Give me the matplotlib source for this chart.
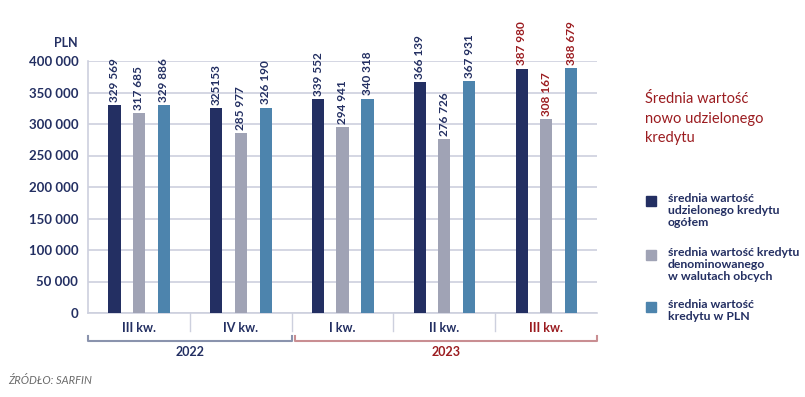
import matplotlib
matplotlib.use("Agg")
import matplotlib.pyplot as plt
from matplotlib.transforms import blended_transform_factory
from matplotlib.patches import Rectangle

plt.rcParams['font.family'] = ['Lato', 'DejaVu Sans']

quarters = ["III kw.", "IV kw.", "I kw.", "II kw.", "III kw."]
years = ["2022", "2023"]
total = [329569, 325153, 339552, 366139, 387980]
foreign = [317685, 285977, 294941, 276726, 308167]
pln = [329886, 326190, 340318, 367931, 388679]
total_lbl = ["329 569", "325153", "339 552", "366 139", "387 980"]
foreign_lbl = ["317 685", "285 977", "294 941", "276 726", "308 167"]
pln_lbl = ["329 886", "326 190", "340 318", "367 931", "388 679"]
yticks = [0, 50000, 100000, 150000, 200000, 250000, 300000, 350000, 400000]
ytick_lbl = ["0", "50 000", "100 000", "150 000", "200 000", "250 000", "300 000", "350 000", "400 000"]
legend_lbl = ["średnia wartość\nudzielonego kredytu\nogółem",
              "średnia wartość kredytu\ndenominowanego\nw walutach obcych",
              "średnia wartość\nkredytu w PLN"]

NAVY = "#232f62"
GRAY = "#a0a3b5"
BLUE = "#4d84ad"
RED = "#9b1c20"
GRID = "#cdd0de"

W, H = 805, 397
fig = plt.figure(figsize=(W/100, H/100), dpi=100)
ax = fig.add_axes([88/W, (H-313)/H, 509/W, 252/H])

colors = [NAVY, GRAY, BLUE]
series = [total, foreign, pln]
labels = [total_lbl, foreign_lbl, pln_lbl]
offs = [-0.24, 0.0, 0.245]
for s, c, lb, o in zip(series, colors, labels, offs):
    for i, v in enumerate(s):
        x = i + 0.5 + o
        ax.bar(x, v, width=0.12, color=c, zorder=3)
        tc = RED if i == 4 else NAVY
        ax.text(x, v + 5000, lb[i], rotation=90, ha='center', va='bottom',
                fontsize=8.5, color=tc, fontweight='bold', zorder=4)

ax.set_xlim(0, 5)
ax.set_ylim(0, 400000)
ax.set_yticks(yticks)
ax.set_yticklabels(ytick_lbl, fontsize=9.5, color=NAVY, fontweight='bold')
ax.tick_params(axis='y', length=0, pad=7)
ax.set_xticks([])
ax.grid(axis='y', color=GRID, linewidth=1.2, zorder=0)
for sp in ['top', 'right']:
    ax.spines[sp].set_visible(False)
ax.spines['left'].set_color(GRID)
ax.spines['left'].set_linewidth(1.2)
ax.spines['bottom'].set_color(GRID)
ax.spines['bottom'].set_linewidth(1.2)

tr = blended_transform_factory(ax.transData, ax.transAxes)
for k in range(1, 5):
    ax.plot([k, k], [0, -0.07], transform=tr, color=GRID, lw=1.0, clip_on=False)
for i, q in enumerate(quarters):
    ax.text(i + 0.5, -0.06, q, transform=tr, ha='center', va='center',
            fontsize=9, fontweight='bold', color=RED if i == 4 else NAVY)

# year brackets
yb, yt = -0.112, -0.09
for (x0, x1), c, yl, tc in [((0.0, 2.0), "#8a93ad", "2022", NAVY),
                             ((2.03, 5.0), "#c98e92", "2023", RED)]:
    ax.plot([x0, x0, x1, x1], [yt, yb, yb, yt], transform=tr, color=c, lw=1.5, clip_on=False)
    ax.text((x0 + x1) / 2, -0.155, yl, transform=tr, ha='center', va='center',
            fontsize=9, fontweight='bold', color=tc)

fig.text(78/W, 1 - 43/H, "PLN", ha='right', va='center', fontsize=9,
         fontweight='bold', color=NAVY)

# legend / title
fig.text(645/W, 1 - 92/H, "Średnia wartość\nnowo udzielonego\nkredytu", ha='left', va='top',
         fontsize=10.5, color=RED, linespacing=1.5)
leg_y = [196, 250, 302]
for y, c, t in zip(leg_y, colors, legend_lbl):
    fig.patches.append(Rectangle((646/W, 1 - (y + 10)/H), 10/W, 10/H, color=c,
                                 transform=fig.transFigure, figure=fig))
    fig.text(668/W, 1 - (y - 3)/H, t, ha='left', va='top', fontsize=8.8,
             color=NAVY, linespacing=1.1, fontweight='bold')

fig.text(8/W, 1 - 381/H, "ŹRÓDŁO: SARFIN", ha='left', va='center', fontsize=8,
         style='italic', color="#6b6b6b")

fig.savefig("out.png", dpi=100)
